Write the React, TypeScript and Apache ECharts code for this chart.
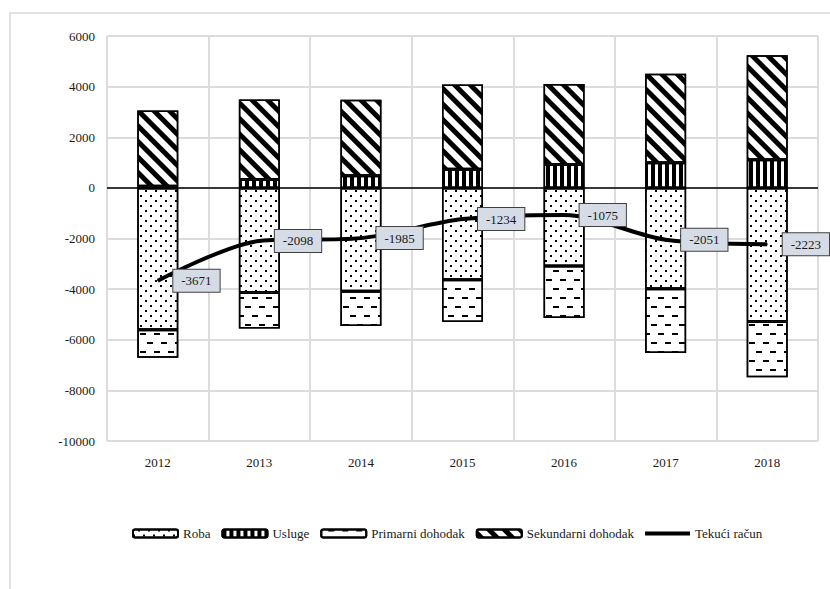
import React, { useEffect, useRef } from 'react';
import * as echarts from 'echarts';

const years = ['2012', '2013', '2014', '2015', '2016', '2017', '2018'];
const roba = [-5600, -4130, -4080, -3625, -3085, -3990, -5275];
const usluge = [60, 330, 480, 735, 925, 990, 1110];
const primarni = [-1110, -1430, -1380, -1670, -2055, -2535, -2205];
const sekundarni = [3000, 3160, 3000, 3345, 3175, 3520, 4130];
const tekuciRacun = [-3671, -2098, -1985, -1234, -1075, -2051, -2223];
const yMin = -10000;
const yMax = 6000;
const yStep = 2000;

const FONT = 'Liberation Serif';
const TEXT = '#1a1a1a';
const barBorder = { borderColor: '#000', borderWidth: 1.5 };

export default function App() {
  const ref = useRef<HTMLDivElement>(null);
  useEffect(() => {
    if (!ref.current) return;
    const chart = echarts.init(ref.current, undefined, { renderer: 'svg' });
    const option: any = {
      animation: false,
      backgroundColor: '#fff',
      textStyle: { fontFamily: FONT },
      grid: { left: 107, right: 12, top: 36, bottom: 148, containLabel: false },
      graphic: [
        {
          type: 'rect',
          silent: true,
          z: -10,
          shape: { x: 10, y: 13, width: 900, height: 700 },
          style: { fill: 'none', stroke: '#d9d9d9', lineWidth: 1.5 },
        },
      ],
      legend: {
        left: 127,
        top: 522,
        itemWidth: 45,
        itemHeight: 8,
        itemGap: 11,
        textStyle: { fontFamily: FONT, fontSize: 13, color: TEXT },
        data: [
          'Roba',
          'Usluge',
          'Primarni dohodak',
          'Sekundarni dohodak',
          { name: 'Tekući račun', icon: 'path://M0,0 L45,0 L45,4 L0,4 Z' },
        ],
      },
      xAxis: {
        type: 'category',
        data: years,
        axisLine: { show: false, onZero: false },
        axisTick: { show: false },
        splitLine: { show: true, lineStyle: { color: '#dcdcdc', width: 2 } },
        axisLabel: { fontFamily: FONT, fontSize: 13, color: TEXT, margin: 15 },
      },
      yAxis: {
        type: 'value',
        min: yMin,
        max: yMax,
        interval: yStep,
        axisLine: { show: false },
        axisTick: { show: false },
        splitLine: { show: true, lineStyle: { color: '#dcdcdc', width: 2 } },
        axisLabel: {
          fontFamily: FONT,
          fontSize: 13,
          color: TEXT,
          margin: 12,
          formatter: (v: number) => String(v),
        },
      },
      series: [
        {
          name: 'Roba',
          type: 'bar',
          stack: 'a',
          barWidth: 41,
          data: roba,
          itemStyle: {
            color: '#fff',
            ...barBorder,
            decal: {
              symbol: 'rect',
              symbolSize: 1,
              color: '#000',
              backgroundColor: '#fff',
              dashArrayX: [[2, 8], [0, 5, 2, 3]],
              dashArrayY: [2, 3],
              rotation: 0,
            },
          },
          markLine: {
            silent: true,
            symbol: 'none',
            label: { show: false },
            lineStyle: { color: '#000', width: 1.5, type: 'solid' },
            data: [{ yAxis: 0 }],
          },
        },
        {
          name: 'Usluge',
          type: 'bar',
          stack: 'a',
          barWidth: 41,
          data: usluge,
          itemStyle: {
            color: '#fff',
            ...barBorder,
            decal: {
              symbol: 'rect',
              symbolSize: 1,
              color: '#000',
              backgroundColor: '#fff',
              dashArrayX: [3.5, 2.5],
              dashArrayY: [1, 0],
              rotation: 0,
            },
          },
        },
        {
          name: 'Primarni dohodak',
          type: 'bar',
          stack: 'a',
          barWidth: 41,
          data: primarni,
          itemStyle: {
            color: '#fff',
            ...barBorder,
            decal: {
              symbol: 'rect',
              symbolSize: 1,
              color: '#000',
              backgroundColor: '#fff',
              dashArrayX: [[6, 8], [0, 7, 6, 1]],
              dashArrayY: [2, 6.5],
              rotation: 0,
            },
          },
        },
        {
          name: 'Sekundarni dohodak',
          type: 'bar',
          stack: 'a',
          barWidth: 41,
          data: sekundarni,
          itemStyle: {
            color: '#fff',
            ...barBorder,
            decal: {
              symbol: 'rect',
              symbolSize: 1,
              color: '#000',
              backgroundColor: '#fff',
              dashArrayX: [1, 0],
              dashArrayY: [4.5, 5.5],
              rotation: Math.PI / 4,
            },
          },
        },
        {
          name: 'Tekući račun',
          type: 'line',
          data: tekuciRacun,
          smooth: 0.3,
          symbol: 'circle',
          symbolSize: 1,
          showSymbol: true,
          z: 5,
          lineStyle: { color: '#000', width: 4 },
          itemStyle: { color: '#000' },
          label: {
            show: true,
            position: 'right',
            distance: 15,
            fontFamily: FONT,
            fontSize: 13,
            color: TEXT,
            backgroundColor: '#d6dce5',
            borderColor: '#404040',
            borderWidth: 1,
            padding: [5, 8, 4, 8],
          },
        },
      ],
    };
    chart.setOption(option);
    return () => chart.dispose();
  }, []);
  return (
    <div
      ref={ref}
      style={{ position: 'fixed', left: 0, top: 0, width: 830, height: 589 }}
    />
  );
}
